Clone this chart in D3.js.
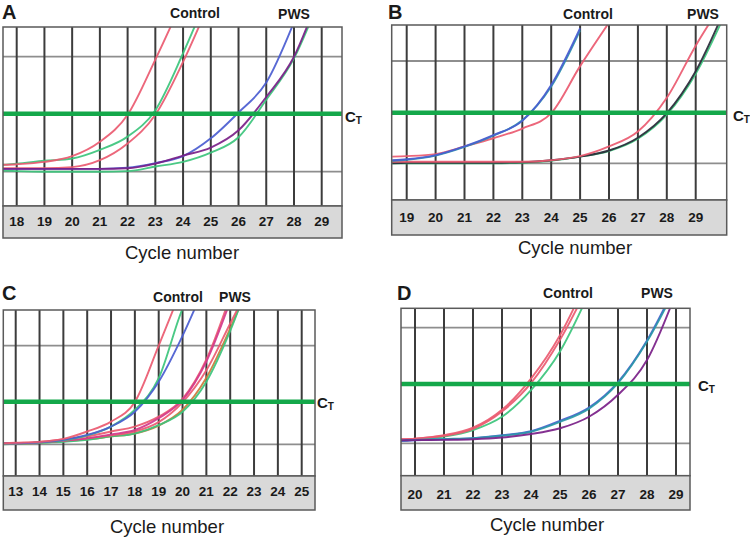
<!DOCTYPE html>
<html>
<head>
<meta charset="utf-8">
<script src="https://cdn.jsdelivr.net/npm/d3@7"></script>
<style>
  html, body { margin: 0; padding: 0; background: #fff; }
  svg { display: block; font-family: "Liberation Sans", Arial, sans-serif; }
</style>
</head>
<body>
<svg id="chart" width="750" height="540"></svg>
<script>
// ---------------- DATA ----------------
// Panel A
const ticksA = [18, 19, 20, 21, 22, 23, 24, 25, 26, 27, 28, 29];
const cyclesA = [17.5, 18, 19, 20, 21, 22, 23, 24, 25, 26, 27, 28, 29];
const aRed1   = [0.12, 0.13, 0.17, 0.27, 0.52, 0.99, 1.95, 3.0, null, null, null, null, null];
const aGreen1 = [0.12, 0.14, 0.19, 0.23, 0.38, 0.61, 1.07, 2.06, 3.2, null, null, null, null];
const aRed2   = [0.06, 0.06, 0.06, 0.08, 0.20, 0.49, 0.99, 1.91, 3.0, null, null, null, null];
const aBlue   = [0.05, 0.05, 0.05, 0.05, 0.05, 0.07, 0.15, 0.27, 0.58, 1.03, 1.55, 2.6, null];
const aPurple = [0.05, 0.05, 0.05, 0.05, 0.05, 0.06, 0.14, 0.28, 0.42, 0.72, 1.3, 2.0, 3.2];
const aGreen2 = [0.02, 0.01, 0.0, 0.0, 0.0, 0.01, 0.09, 0.17, 0.33, 0.6, 1.25, 1.97, 3.1];
const ctA = 1.01;

// Panel B
const ticksB = [19, 20, 21, 22, 23, 24, 25, 26, 27, 28, 29];
const cyclesB = [18.5, 19, 20, 21, 22, 23, 24, 25, 26, 27, 28, 29, 30];
const bBlue   = [0.06, 0.08, 0.16, 0.33, 0.55, 0.83, 1.53, 2.64, null, null, null, null, null];
const bTeal   = [0.05, 0.07, 0.15, 0.32, 0.54, 0.84, 1.5, 2.6, null, null, null, null, null];
const bRed1   = [0.13, 0.14, 0.18, 0.33, 0.49, 0.68, 0.98, 1.9, 2.75, null, null, null, null];
const bRed2   = [0.03, 0.03, 0.03, 0.03, 0.03, 0.03, 0.06, 0.14, 0.33, 0.62, 1.28, 2.3, 3.2];
const bDark   = [0.0, 0.01, 0.01, 0.01, 0.01, 0.02, 0.06, 0.13, 0.25, 0.50, 0.98, 1.8, 3.0];
const bGreen  = [0.0, 0.0, 0.0, 0.0, 0.0, 0.01, 0.05, 0.13, 0.24, 0.48, 0.95, 1.75, 2.9];
const ctB = 0.99;

// Panel C
const ticksC = [13, 14, 15, 16, 17, 18, 19, 20, 21, 22, 23, 24, 25];
const cyclesC = [12.5, 13, 14, 15, 16, 17, 18, 19, 20, 21, 22, 23, 24, 25];
const cRed1   = [0.02, 0.03, 0.05, 0.11, 0.26, 0.46, 0.86, 2.0, 3.2, null, null, null, null, null];
const cGreen1 = [0.02, 0.02, 0.04, 0.08, 0.18, 0.36, 0.70, 1.34, 2.75, 3.6, null, null, null, null];
const cBlue   = [0.02, 0.02, 0.04, 0.09, 0.19, 0.36, 0.66, 1.27, 2.2, 3.3, null, null, null, null];
const cPurple = [0.02, 0.02, 0.04, 0.07, 0.12, 0.20, 0.29, 0.53, 0.90, 1.68, 2.9, null, null, null];
const cPink   = [0.02, 0.02, 0.05, 0.10, 0.16, 0.26, 0.36, 0.56, 0.92, 1.72, 3.0, null, null, null];
const cRed3   = [0.02, 0.02, 0.04, 0.07, 0.12, 0.18, 0.26, 0.45, 0.85, 1.5, 2.45, 3.4, null, null];
const cGreen2 = [0.0, 0.01, 0.03, 0.05, 0.09, 0.16, 0.22, 0.39, 0.66, 1.27, 2.3, 3.6, null, null];
const cOrange = [0.01, 0.01, 0.03, 0.06, 0.10, 0.16, 0.22, 0.38, 0.70, 1.35, 2.35, 3.5, null, null];
const ctC = 0.865;

// Panel D
const ticksD = [20, 21, 22, 23, 24, 25, 26, 27, 28, 29];
const cyclesD = [19.5, 20, 21, 22, 23, 24, 25, 26, 27, 28, 29, 29.5];
const dRed1   = [0.07, 0.08, 0.14, 0.27, 0.58, 1.12, 1.87, 2.9, null, null, null, null];
const dRed2   = [0.07, 0.08, 0.13, 0.25, 0.55, 1.04, 1.79, 2.75, null, null, null, null];
const dGreen  = [0.05, 0.06, 0.115, 0.23, 0.46, 0.92, 1.59, 2.6, null, null, null, null];
const dTeal   = [0.05, 0.06, 0.075, 0.09, 0.13, 0.20, 0.37, 0.60, 1.04, 1.76, 2.7, null];
const dBlue   = [0.04, 0.05, 0.07, 0.09, 0.14, 0.21, 0.39, 0.62, 1.06, 1.78, 2.75, null];
const dPurple = [0.05, 0.055, 0.06, 0.07, 0.10, 0.16, 0.26, 0.46, 0.84, 1.44, 2.6, null];
const ctD = 1.026;

const gridValues = [0, 2];
const axisTitle = "Cycle number";

// ---------------- STYLE ----------------
const C = {
  red: "#ea5a70", green: "#3cc47c", blue: "#4a5cd0", purple: "#7a1f88",
  teal: "#2a98a8", dark: "#2a2a3a", pink: "#d43a8c", orange: "#cc7a3a"
};

const panels = [
  { letter: "A", ticks: ticksA, cycles: cyclesA, ct: ctA,
    series: [[aGreen2, C.green], [aRed2, C.red], [aGreen1, C.green], [aRed1, C.red], [aBlue, C.blue], [aPurple, C.purple]],
    L: { left: 3, right: 342, top: 27, bandTop: 206, bandBot: 238, x0: 16.7, x1: 321.7, yg0: 171.7, yg2: 56.7,
         letterX: 2, letterY: 19, ctrlX: 195, ctrlY: 18, pwsX: 294, pwsY: 19, ctX: 345, ctY: 122, tickY: 226, titleX: 182, titleY: 259 } },
  { letter: "B", ticks: ticksB, cycles: cyclesB, ct: ctB,
    series: [[bGreen, C.green], [bDark, C.dark], [bRed2, C.red], [bRed1, C.red], [bTeal, C.teal], [bBlue, C.blue]],
    L: { left: 391.7, right: 726.7, top: 25, bandTop: 200, bandBot: 235, x0: 406.7, x1: 695.7, yg0: 163.3, yg2: 61,
         letterX: 388, letterY: 18.5, ctrlX: 588, ctrlY: 18.5, pwsX: 703, pwsY: 18.5, ctX: 733, ctY: 121, tickY: 222, titleX: 575, titleY: 254 } },
  { letter: "C", ticks: ticksC, cycles: cyclesC, ct: ctC,
    series: [[cOrange, C.orange], [cGreen2, C.green], [cRed3, C.red], [cPink, C.red], [cPurple, C.pink], [cGreen1, C.green], [cBlue, C.blue], [cRed1, C.red]],
    L: { left: 3.3, right: 315, top: 310, bandTop: 476, bandBot: 510, x0: 15.7, x1: 301.7, yg0: 444.3, yg2: 345.7,
         letterX: 2, letterY: 300, ctrlX: 178, ctrlY: 301.5, pwsX: 235, pwsY: 301.5, ctX: 317, ctY: 408, tickY: 496, titleX: 167, titleY: 533 } },
  { letter: "D", ticks: ticksD, cycles: cyclesD, ct: ctD,
    series: [[dGreen, C.green], [dRed2, C.red], [dRed1, C.red], [dBlue, C.blue], [dTeal, C.teal], [dPurple, C.purple]],
    L: { left: 401, right: 690, top: 308.3, bandTop: 475.7, bandBot: 510, x0: 415, x1: 676, yg0: 443.3, yg2: 327.7,
         letterX: 397, letterY: 300, ctrlX: 568, ctrlY: 298, pwsX: 657, pwsY: 298, ctX: 698, ctY: 391, tickY: 499, titleX: 547, titleY: 531 } }
];

// ---------------- DRAW ----------------
const svg = d3.select("#chart");
svg.append("rect").attr("width", 750).attr("height", 540).attr("fill", "#fff");

panels.forEach((p, i) => {
  const L = p.L;
  const g = svg.append("g");
  const x = d3.scaleLinear().domain([p.ticks[0], p.ticks[p.ticks.length - 1]]).range([L.x0, L.x1]);
  const y = d3.scaleLinear().domain([gridValues[0], gridValues[1]]).range([L.yg0, L.yg2]);

  const clipId = "clip" + i;
  g.append("clipPath").attr("id", clipId).append("rect")
    .attr("x", L.left).attr("y", L.top).attr("width", L.right - L.left).attr("height", L.bandTop - L.top);

  g.append("rect").attr("x", L.left).attr("y", L.top).attr("width", L.right - L.left).attr("height", L.bandTop - L.top)
    .attr("fill", "#fff");

  // horizontal gridlines
  g.selectAll(".hg").data(gridValues).join("line")
    .attr("x1", L.left).attr("x2", L.right).attr("y1", d => y(d)).attr("y2", d => y(d))
    .attr("stroke", "#8e8e8e").attr("stroke-width", 1.8);

  // vertical gridlines
  g.selectAll(".vg").data(p.ticks).join("line")
    .attr("x1", d => x(d)).attr("x2", d => x(d)).attr("y1", L.top).attr("y2", L.bandTop)
    .attr("stroke", "#3c3c3c").attr("stroke-width", 2);

  // curves
  const line = d3.line()
    .defined(d => d[1] != null)
    .x(d => x(d[0])).y(d => y(d[1]))
    .curve(d3.curveMonotoneX);
  const cg = g.append("g").attr("clip-path", `url(#${clipId})`);
  p.series.forEach(([vals, col]) => {
    cg.append("path")
      .attr("d", line(p.cycles.map((c, k) => [c, vals[k]])))
      .attr("fill", "none").attr("stroke", col).attr("stroke-width", 1.9)
      .attr("stroke-linejoin", "round").attr("opacity", 0.92);
  });

  // threshold line
  g.append("line").attr("x1", L.left).attr("x2", L.right).attr("y1", y(p.ct)).attr("y2", y(p.ct))
    .attr("stroke", "#14a84a").attr("stroke-width", 4.5);

  // frame
  g.append("rect").attr("x", L.left).attr("y", L.top).attr("width", L.right - L.left).attr("height", L.bandTop - L.top)
    .attr("fill", "none").attr("stroke", "#5a5a5a").attr("stroke-width", 1.5);

  // gray axis band
  g.append("rect").attr("x", L.left).attr("y", L.bandTop).attr("width", L.right - L.left).attr("height", L.bandBot - L.bandTop)
    .attr("fill", "#d9d9d9").attr("stroke", "#5a5a5a").attr("stroke-width", 1.5);

  // tick labels
  g.selectAll(".tl").data(p.ticks).join("text")
    .attr("x", d => x(d)).attr("y", L.tickY).attr("text-anchor", "middle")
    .attr("font-size", 13.5).attr("font-weight", "bold").attr("fill", "#1a1a1a")
    .text(d => d);

  // axis title
  g.append("text").attr("x", L.titleX).attr("y", L.titleY).attr("text-anchor", "middle")
    .attr("font-size", 18.5).attr("fill", "#1a1a1a").text(axisTitle);

  // panel letter
  g.append("text").attr("x", L.letterX).attr("y", L.letterY)
    .attr("font-size", 20).attr("font-weight", "bold").attr("fill", "#1a1a1a").text(p.letter);

  // group labels
  g.append("text").attr("x", L.ctrlX).attr("y", L.ctrlY).attr("text-anchor", "middle")
    .attr("font-size", 14).attr("font-weight", "bold").attr("fill", "#1a1a1a").text("Control");
  g.append("text").attr("x", L.pwsX).attr("y", L.pwsY).attr("text-anchor", "middle")
    .attr("font-size", 14).attr("font-weight", "bold").attr("fill", "#1a1a1a").text("PWS");

  // CT label
  const ct = g.append("text").attr("x", L.ctX).attr("y", L.ctY)
    .attr("font-size", 15).attr("font-weight", "bold").attr("fill", "#1a1a1a");
  ct.append("tspan").text("C");
  ct.append("tspan").attr("font-size", 10).attr("dy", 2).text("T");
});
</script>
</body>
</html>
